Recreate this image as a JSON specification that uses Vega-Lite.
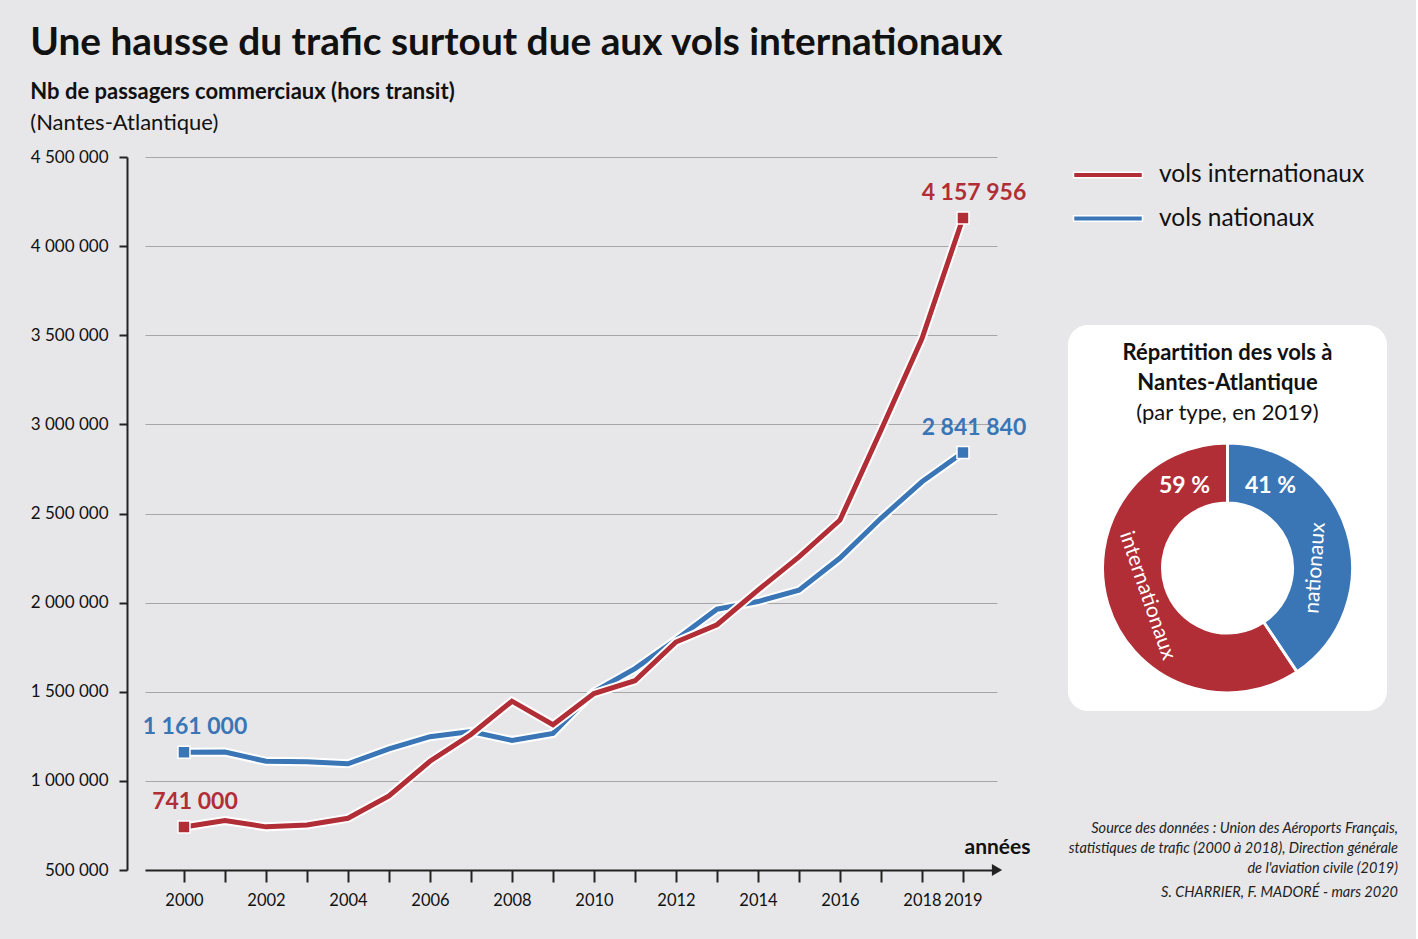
{
  "$schema": "https://vega.github.io/schema/vega-lite/v6.json",
  "background": "#e7e7e9",
  "padding": {"left": 30, "top": 24, "right": 18, "bottom": 30},
  "title": {
    "text": "Une hausse du trafic surtout due aux vols internationaux",
    "anchor": "start", "frame": "bounds",
    "fontSize": 38.8, "fontWeight": "bold", "color": "#111", "offset": 18
  },
  "datasets": {
    "trafic": [
      {"annee": 2000, "type": "nationaux", "passagers": 1161000},
      {"annee": 2001, "type": "nationaux", "passagers": 1162000},
      {"annee": 2002, "type": "nationaux", "passagers": 1110000},
      {"annee": 2003, "type": "nationaux", "passagers": 1107000},
      {"annee": 2004, "type": "nationaux", "passagers": 1096000},
      {"annee": 2005, "type": "nationaux", "passagers": 1180000},
      {"annee": 2006, "type": "nationaux", "passagers": 1248000},
      {"annee": 2007, "type": "nationaux", "passagers": 1277000},
      {"annee": 2008, "type": "nationaux", "passagers": 1227000},
      {"annee": 2009, "type": "nationaux", "passagers": 1266000},
      {"annee": 2010, "type": "nationaux", "passagers": 1500000},
      {"annee": 2011, "type": "nationaux", "passagers": 1630000},
      {"annee": 2012, "type": "nationaux", "passagers": 1792000},
      {"annee": 2013, "type": "nationaux", "passagers": 1963000},
      {"annee": 2014, "type": "nationaux", "passagers": 2006000},
      {"annee": 2015, "type": "nationaux", "passagers": 2070000},
      {"annee": 2016, "type": "nationaux", "passagers": 2250000},
      {"annee": 2017, "type": "nationaux", "passagers": 2473000},
      {"annee": 2018, "type": "nationaux", "passagers": 2678000},
      {"annee": 2019, "type": "nationaux", "passagers": 2841840},
      {"annee": 2000, "type": "internationaux", "passagers": 741000},
      {"annee": 2001, "type": "internationaux", "passagers": 778000},
      {"annee": 2002, "type": "internationaux", "passagers": 742000},
      {"annee": 2003, "type": "internationaux", "passagers": 752000},
      {"annee": 2004, "type": "internationaux", "passagers": 790000},
      {"annee": 2005, "type": "internationaux", "passagers": 916000},
      {"annee": 2006, "type": "internationaux", "passagers": 1110000},
      {"annee": 2007, "type": "internationaux", "passagers": 1260000},
      {"annee": 2008, "type": "internationaux", "passagers": 1447000},
      {"annee": 2009, "type": "internationaux", "passagers": 1315000},
      {"annee": 2010, "type": "internationaux", "passagers": 1490000},
      {"annee": 2011, "type": "internationaux", "passagers": 1562000},
      {"annee": 2012, "type": "internationaux", "passagers": 1779000},
      {"annee": 2013, "type": "internationaux", "passagers": 1876000},
      {"annee": 2014, "type": "internationaux", "passagers": 2070000},
      {"annee": 2015, "type": "internationaux", "passagers": 2257000},
      {"annee": 2016, "type": "internationaux", "passagers": 2463000},
      {"annee": 2017, "type": "internationaux", "passagers": 2967000},
      {"annee": 2018, "type": "internationaux", "passagers": 3481000},
      {"annee": 2019, "type": "internationaux", "passagers": 4157956}
    ],
    "repartition": [
      {"type": "internationaux", "passagers": 4157956},
      {"type": "nationaux", "passagers": 2841840}
    ]
  },
  "spacing": 34,
  "resolve": {"scale": {"fill": "independent"}, "legend": {"fill": "independent"}},
  "hconcat": [
    {
      "width": 852,
      "height": 713,
      "title": {
        "text": "Nb de passagers commerciaux (hors transit)",
        "subtitle": "(Nantes-Atlantique)",
        "anchor": "start", "frame": "bounds",
        "fontSize": 22, "fontWeight": "bold", "color": "#111",
        "subtitleFontSize": 22, "subtitleColor": "#111", "subtitlePadding": 9,
        "offset": 13
      },
      "data": {"name": "trafic"},
      "encoding": {
        "x": {
          "field": "annee", "type": "quantitative",
          "scale": {"domain": [1999.05, 2019.83], "nice": false, "zero": false},
          "axis": {
            "values": [2000, 2001, 2002, 2003, 2004, 2005, 2006, 2007, 2008, 2009, 2010, 2011, 2012, 2013, 2014, 2015, 2016, 2017, 2018, 2019],
            "format": "d",
            "labelExpr": "datum.value % 2 == 0 || datum.value == 2019 ? datum.label : ''",
            "labelOverlap": false, "labelFlush": false,
            "grid": false,
            "domainColor": "#222", "domainWidth": 2,
            "tickColor": "#222", "tickWidth": 2, "tickSize": 12,
            "labelFontSize": 16.5, "labelColor": "#111", "labelPadding": 10,
            "title": "années", "titleFontSize": 21, "titleFontWeight": "bold", "titleColor": "#111",
            "titleAnchor": "end", "titleAlign": "center", "titleBaseline": "alphabetic",
            "titleX": 852, "titleY": -17
          }
        },
        "y": {
          "field": "passagers", "type": "quantitative",
          "scale": {"domain": [500000, 4500000], "nice": false, "zero": false},
          "axis": {
            "values": [500000, 1000000, 1500000, 2000000, 2500000, 3000000, 3500000, 4000000, 4500000],
            "format": ",d",
            "offset": 18,
            "gridColor": "#a6a6a6", "gridWidth": 1.2,
            "domainColor": "#222", "domainWidth": 2,
            "tickColor": "#222", "tickWidth": 2, "tickSize": 8,
            "labelFontSize": 17, "labelColor": "#111", "labelPadding": 11,
            "title": null
          }
        }
      },
      "layer": [
        {
          "transform": [{"filter": "datum.type == 'nationaux'"}],
          "mark": {"type": "line", "stroke": "white", "strokeWidth": 9}
        },
        {
          "transform": [{"filter": "datum.type == 'nationaux'"}],
          "mark": {"type": "line", "stroke": "#3a76b6", "strokeWidth": 5}
        },
        {
          "transform": [{"filter": "datum.type == 'internationaux'"}],
          "mark": {"type": "line", "stroke": "white", "strokeWidth": 9}
        },
        {
          "transform": [{"filter": "datum.type == 'internationaux'"}],
          "mark": {"type": "line", "stroke": "#b12e36", "strokeWidth": 5}
        },
        {
          "transform": [{"filter": "datum.annee == 2000 || datum.annee == 2019"}],
          "mark": {"type": "square", "size": 144, "opacity": 1, "stroke": "white", "strokeWidth": 1.5},
          "encoding": {
            "fill": {
              "field": "type", "type": "nominal",
              "scale": {"domain": ["internationaux", "nationaux"], "range": ["#b12e36", "#3a76b6"]},
              "legend": null
            }
          }
        },
        {
          "transform": [{"filter": "datum.annee == 2000 || datum.annee == 2019"}],
          "mark": {"type": "text", "dx": 11, "dy": -25, "fontSize": 23, "fontWeight": "bold", "baseline": "middle"},
          "encoding": {
            "text": {"field": "passagers", "type": "quantitative", "format": ",d"},
            "fill": {
              "field": "type", "type": "nominal",
              "scale": {"domain": ["internationaux", "nationaux"], "range": ["#b12e36", "#3a76b6"]},
              "legend": null
            }
          }
        },
        {
          "data": {"values": [{}]},
          "mark": {"type": "point", "shape": "triangle-right", "filled": true, "color": "#222", "size": 140, "opacity": 1},
          "encoding": {"x": {"value": "width"}, "y": {"value": "height"}}
        }
      ]
    },
    {
      "spacing": 0,
      "resolve": {"scale": {"fill": "independent"}, "legend": {"fill": "independent"}},
      "vconcat": [
        {
          "width": 319,
          "height": 168,
          "data": {"name": "repartition"},
          "mark": {"type": "point", "filled": true, "opacity": 0},
          "encoding": {
            "fill": {
              "field": "type", "type": "nominal",
              "scale": {"domain": ["internationaux", "nationaux"], "range": ["#b12e36", "#3a76b6"]},
              "legend": {
                "orient": "none", "legendX": 22, "legendY": 0,
                "direction": "vertical", "title": null,
                "labelExpr": "'vols ' + datum.label",
                "labelFontSize": 24.5, "labelColor": "#111", "labelOffset": 33, "labelLimit": 400,
                "symbolType": "M-2,-0.16L2,-0.16L2,0.16L-2,0.16Z",
                "symbolSize": 1190,
                "symbolStrokeColor": "white", "symbolStrokeWidth": 1.5, "symbolOpacity": 1,
                "rowPadding": 13.5
              }
            }
          }
        },
        {
          "width": 319,
          "height": 386,
          "view": {"fill": "white", "cornerRadius": 20, "stroke": null},
          "title": {
            "text": ["Répartition des vols à", "Nantes-Atlantique"],
            "subtitle": "(par type, en 2019)",
            "anchor": "middle", "frame": "group",
            "fontSize": 22, "fontWeight": "bold", "color": "#111", "lineHeight": 30,
            "subtitleFontSize": 22, "subtitleColor": "#111", "subtitlePadding": 8,
            "offset": -100
          },
          "data": {"name": "repartition"},
          "transform": [
            {"joinaggregate": [{"op": "sum", "field": "passagers", "as": "total"}]},
            {"calculate": "format(100 * datum.passagers / datum.total, '.0f') + ' %'", "as": "part"}
          ],
          "layer": [
            {
              "mark": {"type": "arc", "outerRadius": 125, "innerRadius": 65, "stroke": "white", "strokeWidth": 3, "yOffset": 50},
              "encoding": {
                "theta": {"field": "passagers", "type": "quantitative", "stack": true},
                "order": {"field": "type", "sort": "descending"},
                "fill": {
                  "field": "type", "type": "nominal",
                  "scale": {"domain": ["internationaux", "nationaux"], "range": ["#b12e36", "#3a76b6"]},
                  "legend": null
                }
              }
            },
            {
              "transform": [{"filter": "datum.type == 'internationaux'"}],
              "mark": {"type": "text", "theta": -0.48, "radius": 93, "yOffset": 50, "fontSize": 23, "fontWeight": "bold", "color": "white", "baseline": "middle"},
              "encoding": {"text": {"field": "part"}}
            },
            {
              "transform": [{"filter": "datum.type == 'nationaux'"}],
              "mark": {"type": "text", "theta": 0.48, "radius": 93, "yOffset": 50, "fontSize": 23, "fontWeight": "bold", "color": "white", "baseline": "middle"},
              "encoding": {"text": {"field": "part"}}
            },
            {
              "transform": [{"filter": "datum.type == 'internationaux'"}],
              "mark": {"type": "text", "theta": 4.38, "radius": 85, "angle": 71, "yOffset": 50, "fontSize": 21, "color": "white", "baseline": "middle"},
              "encoding": {"text": {"field": "type"}}
            },
            {
              "transform": [{"filter": "datum.type == 'nationaux'"}],
              "mark": {"type": "text", "theta": 1.5708, "radius": 88, "angle": -86, "yOffset": 50, "fontSize": 21, "color": "white", "baseline": "middle"},
              "encoding": {"text": {"field": "type"}}
            }
          ]
        },
        {
          "width": 330,
          "height": 189,
          "data": {"values": [{}]},
          "layer": [
            {
              "mark": {
                "type": "text",
                "text": ["Source des données : Union des Aéroports Français,", "statistiques de trafic (2000 à 2018),  Direction générale", "de l'aviation civile (2019)"],
                "x": "width", "y": "height", "dy": -64,
                "align": "right", "baseline": "bottom", "lineHeight": 20,
                "fontSize": 14.5, "fontStyle": "italic", "color": "#222"
              }
            },
            {
              "mark": {
                "type": "text",
                "text": "S. CHARRIER, F. MADORÉ - mars 2020",
                "x": "width", "y": "height",
                "align": "right", "baseline": "bottom",
                "fontSize": 14.5, "fontStyle": "italic", "color": "#222"
              }
            }
          ]
        }
      ]
    }
  ],
  "config": {
    "font": "Lato",
    "view": {"stroke": null},
    "locale": {
      "number": {"decimal": ",", "thousands": "\u00a0", "grouping": [3], "currency": ["", "\u00a0€"]}
    }
  }
}
